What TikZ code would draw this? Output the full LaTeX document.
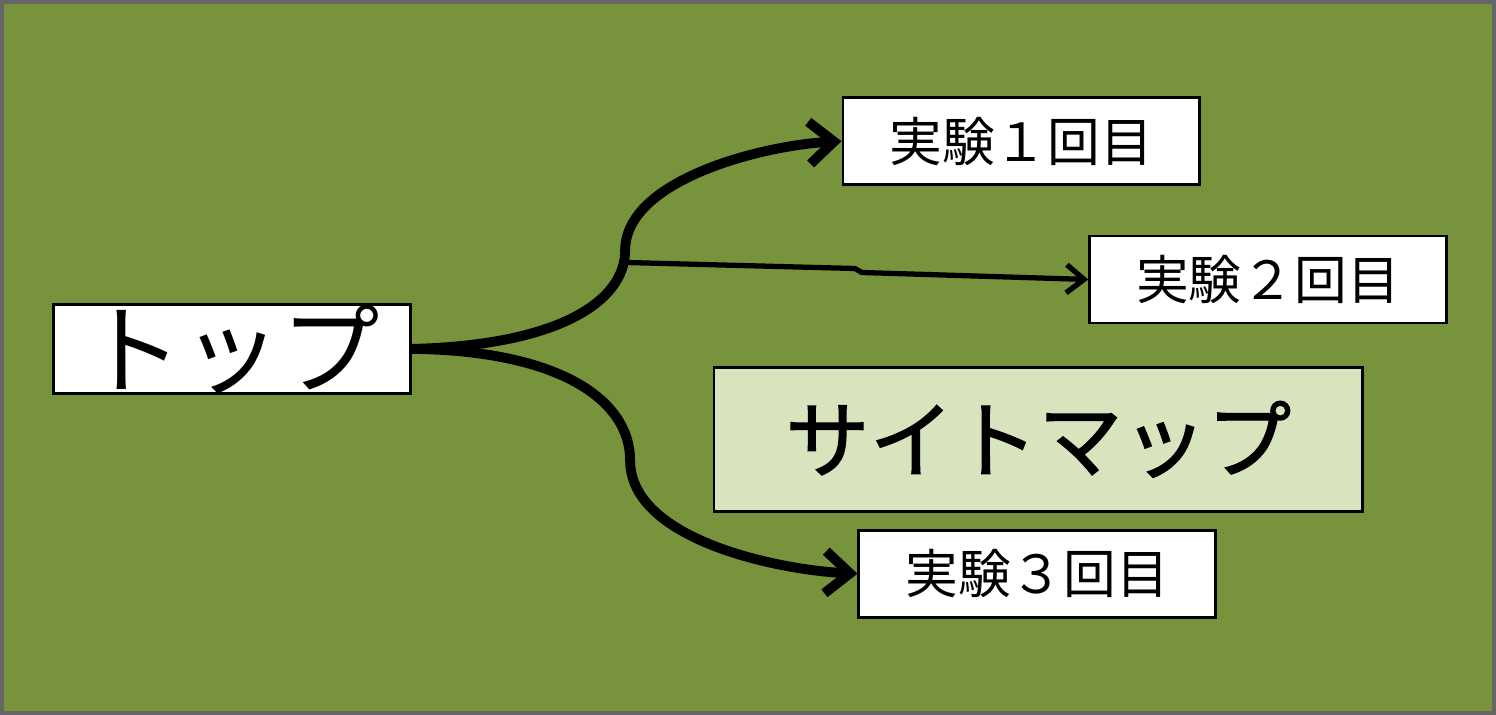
\documentclass[tikz,border=0pt]{standalone}
\usepackage{fontspec}
\newfontfamily\cjk{Noto Sans CJK JP}
\newfontfamily\cjkm{Noto Sans CJK JP Medium}
\usetikzlibrary{arrows.meta}
\definecolor{bg}{HTML}{77933C}
\definecolor{lg}{HTML}{D7E4BD}
\begin{document}
\begin{tikzpicture}[x=0.01cm,y=-0.01cm,
  box/.style={draw=black,line width=0.8pt,fill=white,minimum width=357*0.01cm,minimum height=87*0.01cm,inner sep=0pt,font=\cjk\fontsize{15}{17}\selectfont},
  thick/.style={line width=2.8pt,-{Straight Barb[length=7pt,width=12pt,line width=2.8pt]}},
  thin/.style={line width=1.5pt,-{Straight Barb[length=5pt,width=8pt,line width=1.5pt]}}]
\path[use as bounding box,fill=bg,draw=gray!80!black,line width=1pt] (1,1) rectangle (1495,713);
\node[box,font=\cjk\fontsize{28}{30}\selectfont] (top) at (231.5,348.5) {トップ};
\node[box] (e1) at (1021.5,140.5) {実験１回目};
\node[box] (e2) at (1268.5,279) {実験２回目};
\node[box] (e3) at (1037.5,573.5) {実験３回目};
\node[box,fill=lg,minimum width=649*0.01cm,minimum height=144*0.01cm,font=\cjk\fontsize{24}{28}\selectfont\addfontfeature{FakeBold=1.5}] (sm) at (1038.5,439) {サイトマップ};
\coordinate (b) at (627,262);
\draw[thick] (top.east) .. controls (560,345) and (625,300) .. (625,250) .. controls (625,180) and (760,145) .. (e1.west);
\draw[thick] (top.east) .. controls (560,350) and (630,400) .. (630,460) .. controls (630,540) and (780,570) .. (e3.west);
\draw[thin] (b) -- (855,268) -- (862,272) -- (e2.west);
\end{tikzpicture}
\end{document}
